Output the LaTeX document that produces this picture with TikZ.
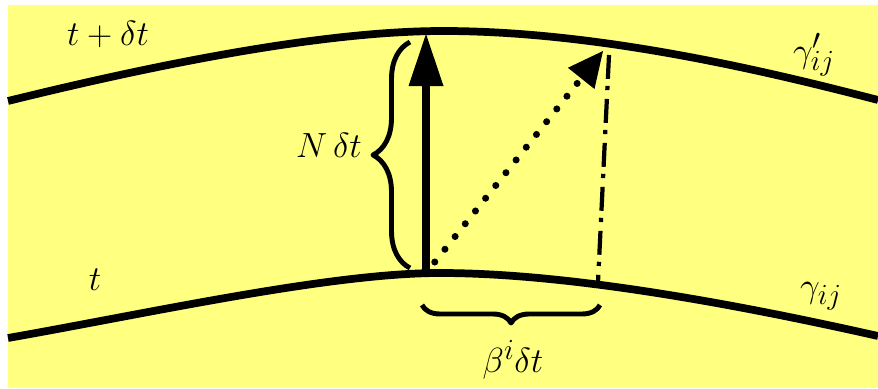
\documentclass[tikz,border=0pt]{standalone}
\usepackage{xcolor}
\usepackage{tikz}
\usetikzlibrary{arrows.meta,decorations.pathreplacing}
\definecolor{paper}{HTML}{FFFF80}

\begin{document}
\begin{tikzpicture}[x=0.025cm,y=-0.025cm,line join=round,
  sheet/.style={line width=5.5pt},
  lbl/.style={font=\fontsize{24.88}{30}\selectfont,inner sep=0pt},
  brc/.style={decorate,decoration={brace,amplitude=#1},line width=3.5pt}]
\useasboundingbox (0,0) rectangle (878,388);
\fill[paper] (8,5) rectangle (878,388);
% the two slices
\draw[sheet] (8,101) .. controls (150,66) and (320,31) .. (443,31) .. controls (600,31) and (770,72) .. (878,100);
\draw[sheet] (8,338) .. controls (150,313) and (330,273) .. (440,273) .. controls (570,273) and (740,305) .. (878,336);
\coordinate (base) at (426,273);
\coordinate (apex) at (426,34);
\coordinate (shift) at (603,51);
\coordinate (drop) at (609,55);
\coordinate (foot) at (598,282);
% lapse, shift and the vertical of the old point
\draw[line width=5.5pt,-{Triangle[length=1.3cm,width=.875cm,line width=0pt]}] (base) -- (apex);
\draw[line width=5pt,line cap=round,dash pattern=on 0pt off 11.6pt,dash phase=1.6pt,-{Triangle[length=.875cm,width=.85cm,line width=0pt]}] (base) -- (shift);
\draw[line width=3pt,dash pattern=on 17pt off 5pt on 3pt off 6.3pt] (drop) -- (foot);
\draw[brc=.925cm] (410,268) -- (410,42);
\draw[brc=.45cm] (600,305) -- (422,305);
\node[lbl] (next) at (108,34) {$t+\delta t$};
\node[lbl] (lapse) at (329,145) {$N\,\delta t$};
\node[lbl] (gnext) at (814,55) {$\gamma'_{ij}$};
\node[lbl] (now) at (95,280) {$t$};
\node[lbl] (gnow) at (821,296) {$\gamma_{ij}$};
\node[lbl] (shiftlbl) at (513,360) {$\beta^i\delta t$};
\end{tikzpicture}
\end{document}
